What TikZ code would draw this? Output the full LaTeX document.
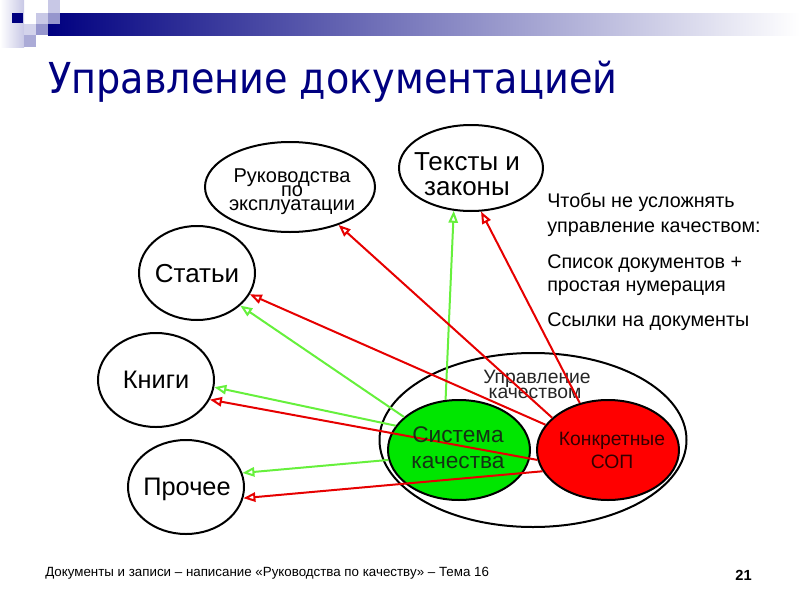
\documentclass[tikz,border=0pt]{standalone}
\usepackage{graphicx}
\usepackage{fontspec}
\setmainfont{Liberation Sans}
\newfontfamily\titlefont{DejaVu Sans}
\usetikzlibrary{arrows.meta,shapes.geometric}
\definecolor{navy}{RGB}{0,0,128}
\definecolor{lav}{RGB}{200,200,230}
\definecolor{lavmid}{RGB}{150,150,205}
\definecolor{lgreen}{RGB}{102,240,60}
\definecolor{ared}{RGB}{230,0,0}
\definecolor{gfill}{RGB}{0,230,0}
\definecolor{rfill}{RGB}{255,0,0}
\definecolor{gtext}{RGB}{20,50,20}
\definecolor{rtext}{RGB}{50,0,0}
\tikzset{
  bub/.style={ellipse, draw=black, line width=1.5pt, inner sep=0pt, fill=white},
  txt/.style={inner sep=0pt, anchor=base},
  rtxt/.style={inner sep=0pt, anchor=base west, font=\fontsize{14.8}{14.8}\selectfont},
  garrow/.style={draw=lgreen, line width=1.5pt, -{Triangle[open,length=9pt,width=7pt]}},
  rarrow/.style={draw=ared, line width=1.5pt, -{Triangle[open,length=9pt,width=7pt]}}
}
\begin{document}
\begin{tikzpicture}[x=0.75pt,y=-0.75pt]
\useasboundingbox (0,0) rectangle (800,600);
% header
\shade[left color=navy, right color=white] (48,13) rectangle (800,35);
\shade[left color=white, right color=lav] (0,0) rectangle (24,47);
\fill[navy] (12,13) rectangle (23,23);
\fill[lav] (36,13) rectangle (48,24);
\fill[lav] (48,0) rectangle (60,13);
\fill[lavmid] (48,13) rectangle (60,24);
\fill[lav!80] (24,24) rectangle (36,35);
\fill[lavmid] (36,24) rectangle (48,35);
\fill[lavmid!80] (24,35) rectangle (36,47);
% title
\node[txt, anchor=base west, text=navy] (title) at (48,93)
  {\titlefont\fontsize{32}{32}\selectfont\scalebox{0.895}[1]{Управление документацией}};
% bubbles
\node[bub, minimum width=127.5pt, minimum height=67.5pt] (ruk) at (290,187) {};
\node[bub, minimum width=108pt, minimum height=64.5pt] (tex) at (471,168) {};
\node[bub, minimum width=87pt, minimum height=70.5pt] (stat) at (197,273) {};
\node[bub, minimum width=87pt, minimum height=70.5pt] (knig) at (156,380) {};
\node[bub, minimum width=87pt, minimum height=70.5pt] (proch) at (186,487) {};
\node[bub, minimum width=230.25pt, minimum height=130.5pt] (big) at (533,440) {};
\node[bub, fill=gfill, minimum width=106.5pt, minimum height=75pt] (green) at (459,450) {};
\node[bub, fill=rfill, minimum width=106.5pt, minimum height=75pt] (red) at (608,450) {};
% bubble texts
\node[txt, font=\fontsize{15}{15}\selectfont] (ruk1) at (292,182) {Руководства};
\node[txt, font=\fontsize{15}{15}\selectfont] (ruk2) at (292,196) {по};
\node[txt, font=\fontsize{15}{15}\selectfont] (ruk3) at (292,210) {эксплуатации};
\node[txt, font=\fontsize{19.5}{19.5}\selectfont] (tex1) at (467,170) {Тексты и};
\node[txt, font=\fontsize{19.5}{19.5}\selectfont] (tex2) at (467,195) {законы};
\node[txt, font=\fontsize{19.5}{19.5}\selectfont] (stat1) at (197,282) {Статьи};
\node[txt, font=\fontsize{19}{19}\selectfont] (knig1) at (156,388) {Книги};
\node[txt, font=\fontsize{19}{19}\selectfont] (proch1) at (187,495) {Прочее};
\node[txt, font=\fontsize{14.5}{14.5}\selectfont, text=black!85] (big1) at (537,383) {Управление};
\node[txt, font=\fontsize{14.5}{14.5}\selectfont, text=black!85] (big2) at (535,398) {качеством};
% arrows
\draw[garrow] (green.105) -- (tex.248);
\draw[garrow] (green.149) -- (stat.323);
\draw[garrow] (green.159) -- (knig.353);
\draw[garrow] (green.188) -- (proch.14);
\draw[rarrow] (red.150) -- (ruk.322);
\draw[rarrow] (red.121) -- (tex.283);
\draw[rarrow] (red.158) -- (stat.338);
\draw[rarrow] (red.188) -- (knig.340);
\draw[rarrow] (red.198) -- (proch.349);
\node[txt, font=\fontsize{17}{17}\selectfont, text=gtext] (g1) at (458,442) {Система};
\node[txt, font=\fontsize{17}{17}\selectfont, text=gtext] (g2) at (458,468) {качества};
\node[txt, font=\fontsize{14.5}{14.5}\selectfont, text=rtext] (r1) at (612,445) {Конкретные};
\node[txt, font=\fontsize{14.5}{14.5}\selectfont, text=rtext] (r2) at (612,468) {СОП};
% right notes
\node[rtxt] (n1) at (547,207) {Чтобы не усложнять};
\node[rtxt] (n2) at (547,232) {управление качеством:};
\node[rtxt] (n3) at (547,268) {Список документов +};
\node[rtxt] (n4) at (547,291) {простая нумерация};
\node[rtxt] (n5) at (547,326) {Ссылки на документы};
% footer
\node[txt, anchor=base west, font=\fontsize{10}{10}\selectfont] (foot) at (45,576)
  {Документы и записи – написание «Руководства по качеству» – Тема 16};
\node[txt, anchor=base east, font=\fontsize{11}{11}\selectfont\bfseries] (page) at (752,580) {21};
\end{tikzpicture}
\end{document}
